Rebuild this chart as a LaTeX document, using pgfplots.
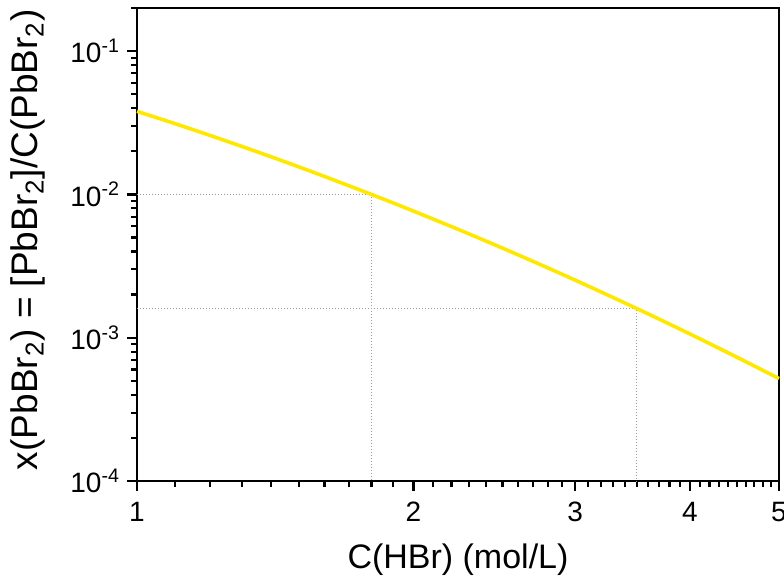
\documentclass[border=0pt]{standalone}
\usepackage{pgfplots}
\pgfplotsset{compat=1.18}
\usepackage{fontspec}
\setmainfont{Liberation Sans}
\definecolor{curveyellow}{RGB}{255,232,0}
\begin{document}
\begin{tikzpicture}
\begin{axis}[
  scale only axis,
  width=321pt, height=236.5pt,
  xmode=log, ymode=log,
  xmin=1, xmax=5, ymin=1e-4, ymax=0.2,
  axis line style={line width=1.4pt},
  every tick/.style={black, line width=1.1pt},
  tick align=outside,
  xtick pos=bottom, ytick pos=left,
  major tick length=5pt, minor tick length=3pt,
  xtick={1,2,3,4,5},
  xticklabels={1,2,3,4,5},
  minor xtick={1.1,1.2,1.3,1.4,1.5,1.6,1.7,1.8,1.9,2.1,2.2,2.3,2.4,2.5,2.6,2.7,2.8,2.9,3.1,3.2,3.3,3.4,3.5,3.6,3.7,3.8,3.9,4.1,4.2,4.3,4.4,4.5,4.6,4.7,4.8,4.9},
  ytick={1e-4,1e-3,1e-2,1e-1},
  yticklabels={10\textsuperscript{-4},10\textsuperscript{-3},10\textsuperscript{-2},10\textsuperscript{-1}},
  minor ytick={2e-4,3e-4,4e-4,5e-4,6e-4,7e-4,8e-4,9e-4,2e-3,3e-3,4e-3,5e-3,6e-3,7e-3,8e-3,9e-3,2e-2,3e-2,4e-2,5e-2,6e-2,7e-2,8e-2,9e-2,2e-1},
  tick label style={font=\fontsize{14}{16}\selectfont},
  xticklabel style={yshift=-2pt},
  xlabel={C(HBr) (mol/L)},
  ylabel={x(PbBr\textsubscript{2}) = [PbBr\textsubscript{2}]/C(PbBr\textsubscript{2})},
  xlabel style={font=\fontsize{17}{19}\selectfont, at={(axis description cs:0.5,-0.167)}, anchor=center},
  ylabel style={font=\fontsize{18.5}{20}\selectfont, at={(axis description cs:-0.17,0.51)}, anchor=center},
  clip=false,
]
\addplot[gray!80, densely dotted, line width=0.5pt] coordinates {(1,0.01) (1.8,0.01) (1.8,1e-4)};
\addplot[gray!80, densely dotted, line width=0.5pt] coordinates {(1,0.0016) (3.5,0.0016) (3.5,1e-4)};
\addplot[curveyellow, line width=1.8pt, smooth] coordinates {
(1.0,0.0380) (1.1,0.03119) (1.2,0.02585) (1.3,0.02165) (1.4,0.01830) (1.5,0.01558)
(1.6,0.01335) (1.8,0.0100) (2.0,0.007654) (2.25,0.005617) (2.5,0.004221)
(2.75,0.003234) (3.0,0.002522) (3.5,0.0016) (4.0,0.001062) (4.5,0.000731) (5.0,0.000519)
};
\end{axis}
\pgfresetboundingbox
\path ([shift={(-68.5pt,-49.5pt)}]current axis.south west) rectangle ([shift={(2.5pt,4pt)}]current axis.north east);
\end{tikzpicture}
\end{document}
